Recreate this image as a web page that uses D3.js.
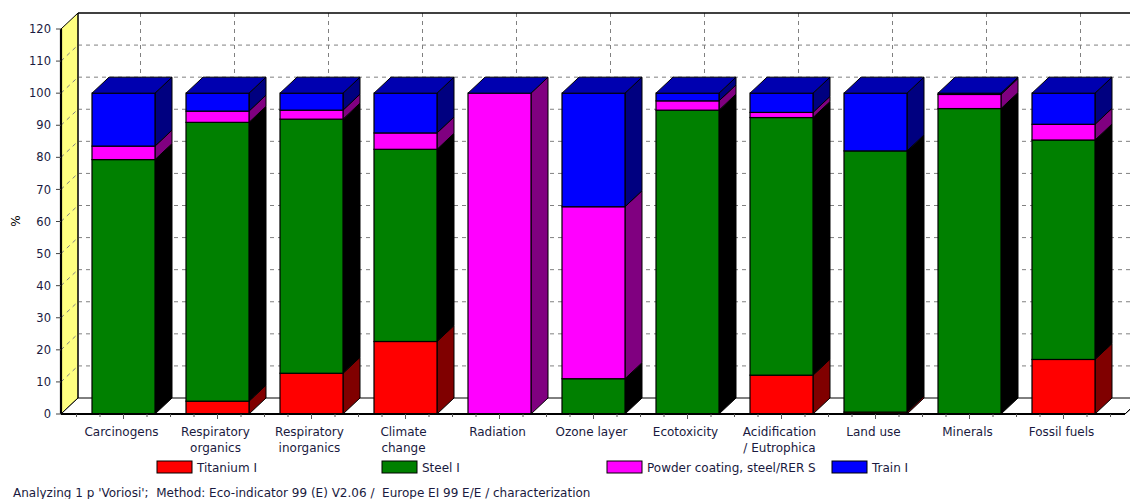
<!DOCTYPE html>
<html>
<head>
<meta charset="utf-8">
<script src="https://cdn.jsdelivr.net/npm/d3@7"></script>
<style>
  html, body { margin: 0; padding: 0; background: #fff; }
  svg { display: block; font-family: "DejaVu Sans", Verdana, sans-serif; }
  .footer { white-space: pre; }
</style>
</head>
<body>
<svg id="chart" width="1130" height="499"></svg>
<script>
// Impact categories (line breaks split the axis labels)
const categories = [
  "Carcinogens", "Respiratory\norganics", "Respiratory\ninorganics", "Climate\nchange",
  "Radiation", "Ozone layer", "Ecotoxicity", "Acidification\n/ Eutrophica",
  "Land use", "Minerals", "Fossil fuels"
];

// Share of each process in every category, %
const titanium = [0, 4.0, 12.7, 22.6, 0, 0, 0, 12.1, 0.6, 0, 17.0];
const steel    = [79.3, 86.9, 79.2, 59.9, 0, 11.0, 94.7, 80.3, 81.4, 95.2, 68.4];
const powder   = [4.2, 3.5, 2.8, 5.1, 100, 53.6, 2.9, 1.6, 0, 4.4, 4.9];
const train    = [16.5, 5.6, 5.3, 12.4, 0, 35.4, 2.4, 6.0, 18.0, 0.4, 9.7];

const seriesNames = ["Titanium I", "Steel I", "Powder coating, steel/RER S", "Train I"];
const yTicks = [0, 10, 20, 30, 40, 50, 60, 70, 80, 90, 100, 110, 120];

const footer = "Analyzing 1 p 'Voriosi';  Method: Eco-indicator 99 (E) V2.06 /  Europe EI 99 E/E / characterization";

// Face colours: front, side
const frontColors = ["#ff0000", "#008000", "#ff00ff", "#0000ff"];
const sideColors  = ["#800000", "#000000", "#800080", "#000080"];
const topColor = "#0000b0";

const svg = d3.select("#chart");

// 3D geometry
const DX = 17, DY = 16;
const frontLeft = 61, frontRight = 1125;
const y = d3.scaleLinear().domain([0, 120]).range([414, 29]);
const x = d3.scaleBand().domain(categories).range([76.5, 1110.5]).padding(0);
const barW = 63;
const center = c => x(c) + x.bandwidth() / 2;

const y0 = y(0), yTop = y(120);

// Stack the series
const table = categories.map((c, i) => ({
  cat: c, s0: titanium[i], s1: steel[i], s2: powder[i], s3: train[i]
}));
const stack = d3.stack().keys(["s0", "s1", "s2", "s3"])(table);

const g = svg.append("g");

// Back wall
g.append("rect")
  .attr("x", frontLeft + DX).attr("y", yTop - DY)
  .attr("width", frontRight - frontLeft).attr("height", y0 - yTop)
  .attr("fill", "#fff");

// Left (yellow) wall
g.append("polygon")
  .attr("points", [[frontLeft, y0], [frontLeft, yTop], [frontLeft + DX, yTop - DY], [frontLeft + DX, y0 - DY]].join(" "))
  .attr("fill", "#ffff80").attr("stroke", "#000").attr("stroke-width", 1);

// Floor
g.append("polygon")
  .attr("points", [[frontLeft, y0], [frontRight, y0], [frontRight + DX, y0 - DY], [frontLeft + DX, y0 - DY]].join(" "))
  .attr("fill", "#fff").attr("stroke", "#000").attr("stroke-width", 1);

// Horizontal grid on the back wall and across the side wall
const gridVals = yTicks.filter(v => v > 0 && v < 120);
g.selectAll(".hgrid").data(gridVals).enter().append("line")
  .attr("x1", frontLeft + DX).attr("x2", frontRight + DX + 20)
  .attr("y1", d => y(d) - DY).attr("y2", d => y(d) - DY)
  .attr("stroke", "#808080").attr("stroke-dasharray", "4,4");
g.selectAll(".sgrid").data(gridVals).enter().append("line")
  .attr("x1", frontLeft).attr("x2", frontLeft + DX)
  .attr("y1", d => y(d)).attr("y2", d => y(d) - DY)
  .attr("stroke", "#808080").attr("stroke-dasharray", "4,4");

// Vertical grid on the back wall
g.selectAll(".vgrid").data(categories).enter().append("line")
  .attr("x1", d => center(d) + DX).attr("x2", d => center(d) + DX)
  .attr("y1", yTop - DY).attr("y2", y0 - DY)
  .attr("stroke", "#808080").attr("stroke-dasharray", "4,4");

// Back wall frame
g.append("line").attr("x1", frontLeft + DX).attr("x2", frontLeft + DX)
  .attr("y1", yTop - DY).attr("y2", y0 - DY).attr("stroke", "#000");
g.append("line").attr("x1", frontLeft + DX).attr("x2", 1130)
  .attr("y1", yTop - DY).attr("y2", yTop - DY).attr("stroke", "#000").attr("stroke-width", 1.5);

// Bars
const bars = g.selectAll(".bar").data(categories).enter().append("g").attr("class", "bar");
bars.each(function (c, i) {
  const bg = d3.select(this);
  const xl = center(c) - barW / 2, xr = xl + barW;
  stack.forEach((layer, k) => {
    const [a, b] = layer[i];
    if (b - a <= 0) return;
    const ya = y(a), yb = y(b);
    // side face
    bg.append("polygon")
      .attr("points", [[xr, ya], [xr, yb], [xr + DX, yb - DY], [xr + DX, ya - DY]].join(" "))
      .attr("fill", sideColors[k]).attr("stroke", "#000").attr("stroke-width", 1);
    // front face
    bg.append("rect")
      .attr("x", xl).attr("y", yb).attr("width", barW).attr("height", ya - yb)
      .attr("fill", frontColors[k]).attr("stroke", "#000").attr("stroke-width", 1.2);
  });
  const total = stack[stack.length - 1][i][1];
  const yt = y(total);
  bg.append("polygon")
    .attr("points", [[xl, yt], [xr, yt], [xr + DX, yt - DY], [xl + DX, yt - DY]].join(" "))
    .attr("fill", topColor).attr("stroke", "#000").attr("stroke-width", 1);
});

// Right wall edge
g.append("line").attr("x1", frontRight).attr("y1", y0)
  .attr("x2", frontRight + DX).attr("y2", y0 - DY).attr("stroke", "#000");

// Axes lines
g.append("line").attr("x1", frontLeft).attr("x2", frontLeft)
  .attr("y1", yTop).attr("y2", y0).attr("stroke", "#000").attr("stroke-width", 2.2);
g.append("line").attr("x1", frontLeft).attr("x2", frontRight)
  .attr("y1", y0).attr("y2", y0).attr("stroke", "#000").attr("stroke-width", 2);

// Y axis ticks and labels
const yAxis = g.append("g");
yAxis.selectAll("line").data(yTicks).enter().append("line")
  .attr("x1", frontLeft - 5).attr("x2", frontLeft)
  .attr("y1", d => y(d)).attr("y2", d => y(d)).attr("stroke", "#444");
yAxis.selectAll("text").data(yTicks).enter().append("text")
  .attr("x", 51).attr("y", d => y(d)).attr("dy", "0.36em")
  .attr("text-anchor", "end").attr("font-size", 11.5).attr("fill", "#1a1a40")
  .text(d => d);

svg.append("text")
  .attr("transform", "translate(20,221) rotate(-90)")
  .attr("text-anchor", "middle").attr("font-size", 12).attr("fill", "#000")
  .text("%");

// X axis ticks: major at category centres, minor every quarter band
const minorTicks = d3.range(0, categories.length * 4 + 1).map(j => x.range()[0] + j * x.bandwidth() / 4);
g.selectAll(".mt").data(minorTicks).enter().append("line")
  .attr("x1", d => d).attr("x2", d => d).attr("y1", y0).attr("y2", y0 + 3)
  .attr("stroke", "#555");
g.selectAll(".Mt").data(categories).enter().append("line")
  .attr("x1", d => center(d)).attr("x2", d => center(d)).attr("y1", y0).attr("y2", y0 + 5)
  .attr("stroke", "#555");

// Category labels
const lbl = g.selectAll(".cl").data(categories).enter().append("text")
  .attr("text-anchor", "middle").attr("font-size", 12).attr("fill", "#1a1a40")
  .attr("x", d => center(d) - 2).attr("y", 436);
lbl.each(function (d) {
  const t = d3.select(this);
  d.split("\n").forEach((line, j) => {
    t.append("tspan").attr("x", center(d) - 2).attr("y", 436 + j * 16).text(line);
  });
});

// Legend
const legend = svg.append("g");
seriesNames.forEach((name, k) => {
  const lx = 157 + k * 225;
  legend.append("rect").attr("x", lx).attr("y", 461).attr("width", 35).attr("height", 12)
    .attr("fill", frontColors[k]).attr("stroke", "#000").attr("stroke-width", 1);
  legend.append("text").attr("x", lx + 40).attr("y", 471.5)
    .attr("font-size", 12).attr("fill", "#1a1a40").text(name);
});

// Footer (keeps the double spaces between its parts)
svg.append("text").attr("class", "footer").attr("x", 13).attr("y", 497)
  .attr("font-size", 12).attr("fill", "#1a1a40").text(footer);
</script>
</body>
</html>
